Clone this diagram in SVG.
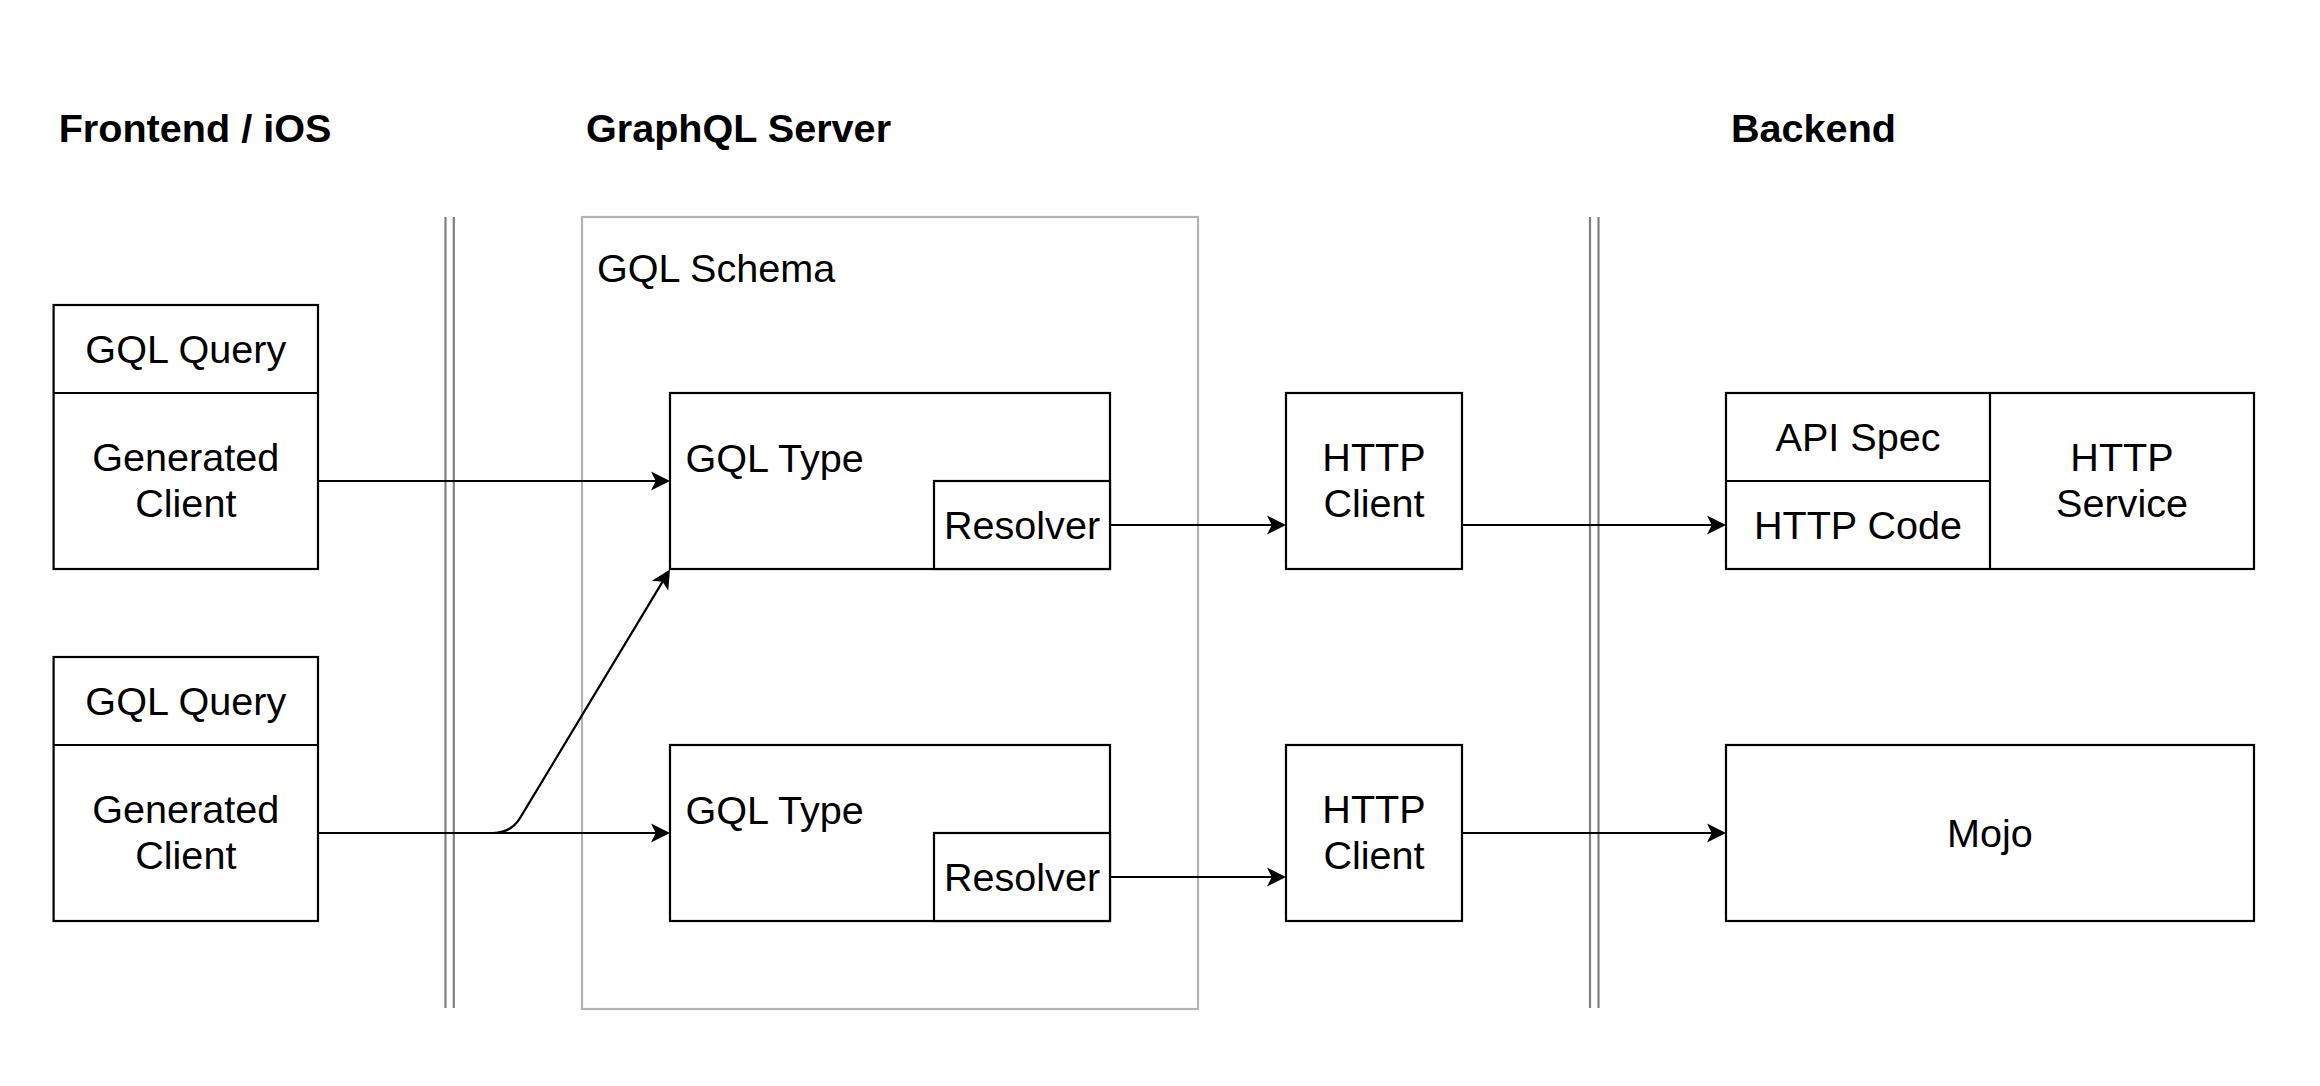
<svg xmlns="http://www.w3.org/2000/svg" width="2320" height="1086" viewBox="0 0 2320 1086">
<defs>
<style>
.bx{fill:#fff;stroke:#000;stroke-width:2.2}
.ln{fill:none;stroke:#000;stroke-width:2.2}
.sep{fill:none;stroke:#808080;stroke-width:2.2}
.cont{fill:#fff;stroke:#b3b3b3;stroke-width:2.2}
.t{font-family:"Liberation Sans",Arial,Helvetica,sans-serif;font-size:39.6px;fill:#000}
.c{text-anchor:middle}
.h{font-weight:bold}
.edge{fill:none;stroke:#000;stroke-width:2.2;marker-end:url(#arr)}
</style>
<marker id="arr" markerUnits="userSpaceOnUse" markerWidth="20" markerHeight="20" viewBox="0 0 20 20" refX="15" refY="10" orient="auto">
<path d="M19,10 L0,0.5 L4.75,10 L0,19.5 Z" fill="#000"/>
</marker>
</defs>
<rect width="2320" height="1086" fill="#fff"/>

<g id="titles">
<text class="t h" x="58.7" y="142">Frontend / iOS</text>
<text class="t h" x="586" y="142">GraphQL Server</text>
<text class="t h" x="1731" y="142">Backend</text>
</g>

<g id="separator-1">
<line class="sep" x1="445.5" y1="217" x2="445.5" y2="1008"/>
<line class="sep" x1="453.8" y1="217" x2="453.8" y2="1008"/>
</g>
<g id="separator-2">
<line class="sep" x1="1590" y1="217" x2="1590" y2="1008"/>
<line class="sep" x1="1598.5" y1="217" x2="1598.5" y2="1008"/>
</g>

<g id="gql-schema">
<rect class="cont" x="582" y="217" width="616" height="792"/>
<text class="t" x="597" y="282">GQL Schema</text>
</g>

<g id="client-1">
<rect class="bx" x="53.6" y="305" width="264.4" height="264"/>
<line class="ln" x1="53.6" y1="393" x2="318" y2="393"/>
<text class="t c" x="185.8" y="363">GQL Query</text>
<text class="t c" x="185.8" y="471">Generated</text>
<text class="t c" x="185.8" y="517">Client</text>
</g>

<g id="client-2">
<rect class="bx" x="53.6" y="657" width="264.4" height="264"/>
<line class="ln" x1="53.6" y1="745" x2="318" y2="745"/>
<text class="t c" x="185.8" y="715">GQL Query</text>
<text class="t c" x="185.8" y="823">Generated</text>
<text class="t c" x="185.8" y="869">Client</text>
</g>

<g id="gql-type-1">
<rect class="bx" x="670" y="393" width="440" height="176"/>
<text class="t" x="685.5" y="472">GQL Type</text>
</g>
<g id="resolver-1">
<rect class="bx" x="934" y="481" width="176" height="88"/>
<text class="t c" x="1022" y="539">Resolver</text>
</g>

<g id="gql-type-2">
<rect class="bx" x="670" y="745" width="440" height="176"/>
<text class="t" x="685.5" y="824">GQL Type</text>
</g>
<g id="resolver-2">
<rect class="bx" x="934" y="833" width="176" height="88"/>
<text class="t c" x="1022" y="891">Resolver</text>
</g>

<g id="http-client-1">
<rect class="bx" x="1286" y="393" width="176" height="176"/>
<text class="t c" x="1374" y="471">HTTP</text>
<text class="t c" x="1374" y="517">Client</text>
</g>

<g id="http-client-2">
<rect class="bx" x="1286" y="745" width="176" height="176"/>
<text class="t c" x="1374" y="823">HTTP</text>
<text class="t c" x="1374" y="869">Client</text>
</g>

<g id="http-service">
<rect class="bx" x="1726" y="393" width="528" height="176"/>
<line class="ln" x1="1990" y1="393" x2="1990" y2="569"/>
<line class="ln" x1="1726" y1="481" x2="1990" y2="481"/>
<text class="t c" x="1858" y="451">API Spec</text>
<text class="t c" x="1858" y="539">HTTP Code</text>
<text class="t c" x="2122" y="471">HTTP</text>
<text class="t c" x="2122" y="517">Service</text>
</g>

<g id="mojo">
<rect class="bx" x="1726" y="745" width="528" height="176"/>
<text class="t c" x="1990" y="847">Mojo</text>
</g>

<g id="connectors">
<path class="edge" d="M318,481 L666,481"/>
<path class="edge" d="M318,833 L666,833"/>
<path class="edge" d="M318,833 L493,833 Q511,833 520.3,817.6 L667.9,572.9"/>
<path class="edge" d="M1110,525 L1282,525"/>
<path class="edge" d="M1110,877 L1282,877"/>
<path class="edge" d="M1462,525 L1722,525"/>
<path class="edge" d="M1462,833 L1722,833"/>
</g>
</svg>
